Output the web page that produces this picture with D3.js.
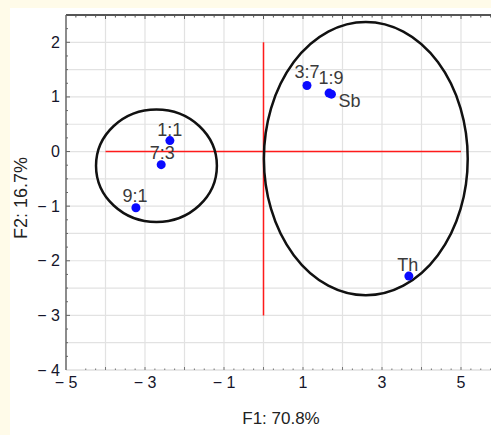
<!DOCTYPE html>
<html>
<head>
<meta charset="utf-8">
<script src="https://cdn.jsdelivr.net/npm/d3@7"></script>
<style>
  body { margin: 0; background: #fffbe9; }
  svg { display: block; }
  text { font-family: "Liberation Sans", Arial, sans-serif; }
</style>
</head>
<body>
<div id="chart"></div>
<script>
// PCA scores (F1, F2)
let names = ['1:1', '7:3', '9:1', '3:7', '1:9', 'Sb', 'Th']
let f1 = [-2.37, -2.59, -3.23, 1.10, 1.66, 1.72, 3.68]
let f2 = [0.20, -0.24, -1.03, 1.21, 1.07, 1.05, -2.28]

// group ellipses: centre and radii in data units
let ellCx = [-2.71, 2.59]
let ellCy = [-0.26, -0.13]
let ellRx = [1.53, 2.58]
let ellRy = [1.03, 2.50]

let xTicks = [-5, -3, -1, 1, 3, 5]
let yTicks = [-4, -3, -2, -1, 0, 1, 2]

let width = 491, height = 435
let margin = {top: 15, left: 66, bottom: 65}

let svg = d3.select('#chart').append('svg').attr('width', width).attr('height', height)

// white panel
svg.append('rect').attr('x', 10).attr('y', 8).attr('width', width - 10).attr('height', height - 8).attr('fill', '#fff')

let x = d3.scaleLinear().domain([-5, 6]).range([margin.left, margin.left + 11 * 39.5])
let y = d3.scaleLinear().domain([-4, 2.5]).range([height - margin.bottom, margin.top])

// grid
svg.append('g').selectAll('line').data(d3.range(-4, 6.01, 1)).enter().append('line')
    .attr('x1', d => x(d)).attr('x2', d => x(d)).attr('y1', y(2.5)).attr('y2', y(-4))
    .attr('stroke', '#e2e2e2').attr('stroke-width', 1.2)
svg.append('g').selectAll('line').data(d3.range(-3.5, 2.01, 0.5)).enter().append('line')
    .attr('x1', x(-5)).attr('x2', width).attr('y1', d => y(d)).attr('y2', d => y(d))
    .attr('stroke', '#e2e2e2').attr('stroke-width', 1.2)

// bottom axis (light) with small dots
svg.append('line').attr('x1', x(-5)).attr('x2', width).attr('y1', y(-4)).attr('y2', y(-4))
    .attr('stroke', '#cfcfcf').attr('stroke-width', 1)
svg.append('g').selectAll('line').data(d3.range(-4.5, 5.76, 0.25)).enter().append('line')
    .attr('x1', d => x(d)).attr('x2', d => x(d)).attr('y1', d => y(-4) - (Number.isInteger(d) ? 3 : 1.5)).attr('y2', y(-4))
    .attr('stroke', '#777').attr('stroke-width', 1)

// top axis (dark) with minor ticks
svg.append('line').attr('x1', x(-5)).attr('x2', width).attr('y1', y(2.5)).attr('y2', y(2.5))
    .attr('stroke', '#555').attr('stroke-width', 2)
svg.append('g').selectAll('line').data(d3.range(-4.75, 5.76, 0.25)).enter().append('line')
    .attr('x1', d => x(d)).attr('x2', d => x(d)).attr('y1', y(2.5)).attr('y2', d => y(2.5) + (Number.isInteger(d) ? 4 : 2.5))
    .attr('stroke', '#555').attr('stroke-width', 1)

// left axis
svg.append('line').attr('x1', x(-5)).attr('x2', x(-5)).attr('y1', y(2.5)).attr('y2', y(-4))
    .attr('stroke', '#666').attr('stroke-width', 1.5)
svg.append('g').selectAll('line').data(d3.range(-3.75, 2.5, 0.25)).enter().append('line')
    .attr('x1', x(-5)).attr('x2', d => x(-5) + (Number.isInteger(d) ? 4 : 2))
    .attr('y1', d => y(d)).attr('y2', d => y(d))
    .attr('stroke', '#666').attr('stroke-width', 1)

// tick labels
let fmt = d => d < 0 ? '\u2212 ' + Math.abs(d) : String(d)
svg.append('g').selectAll('text').data(xTicks).enter().append('text')
    .attr('x', d => x(d)).attr('y', y(-4) + 18).attr('text-anchor', 'middle')
    .attr('font-size', 16).attr('fill', '#15152a').text(fmt)
svg.append('g').selectAll('text').data(yTicks).enter().append('text')
    .attr('x', x(-5) - 6).attr('y', d => y(d) + 5.5).attr('text-anchor', 'end')
    .attr('font-size', 16).attr('fill', '#15152a').text(fmt)

// axis titles
svg.append('text').attr('x', 281).attr('y', 424).attr('text-anchor', 'middle')
    .attr('font-size', 17).attr('fill', '#222').text('F1: 70.8%')
svg.append('text').attr('transform', 'translate(27, 198) rotate(-90)').attr('text-anchor', 'middle')
    .attr('font-size', 18).attr('fill', '#222').text('F2: 16.7%')

// red reference lines
svg.append('line').attr('x1', x(-4)).attr('x2', x(5)).attr('y1', y(0)).attr('y2', y(0))
    .attr('stroke', '#ff1a1a').attr('stroke-width', 1.5)
svg.append('line').attr('x1', x(0)).attr('x2', x(0)).attr('y1', y(2)).attr('y2', y(-3))
    .attr('stroke', '#ff1a1a').attr('stroke-width', 1.5)

// ellipses
svg.append('g').selectAll('ellipse').data(ellCx).enter().append('ellipse')
    .attr('cx', (d, i) => x(d)).attr('cy', (d, i) => y(ellCy[i]))
    .attr('rx', (d, i) => x(ellRx[i]) - x(0)).attr('ry', (d, i) => y(0) - y(ellRy[i]))
    .attr('fill', 'none').attr('stroke', '#111').attr('stroke-width', 2.5)

// points
svg.append('g').selectAll('circle').data(names).enter().append('circle')
    .attr('cx', (d, i) => x(f1[i])).attr('cy', (d, i) => y(f2[i])).attr('r', 4.5)
    .attr('fill', '#0a0aff')

// point labels
let offsets = {'1:1': [0, -5, 'middle'], '7:3': [1, -6, 'middle'], '9:1': [-1, -6, 'middle'],
    '3:7': [0, -7, 'middle'], '1:9': [2, -9, 'middle'], 'Sb': [7, 13, 'start'], 'Th': [-1, -5, 'middle']}
svg.append('g').selectAll('text').data(names).enter().append('text')
    .attr('x', (d, i) => x(f1[i]) + offsets[d][0]).attr('y', (d, i) => y(f2[i]) + offsets[d][1])
    .attr('text-anchor', d => offsets[d][2])
    .attr('font-size', 18).attr('fill', '#3a3a3a').text(d => d)
</script>
</body>
</html>
